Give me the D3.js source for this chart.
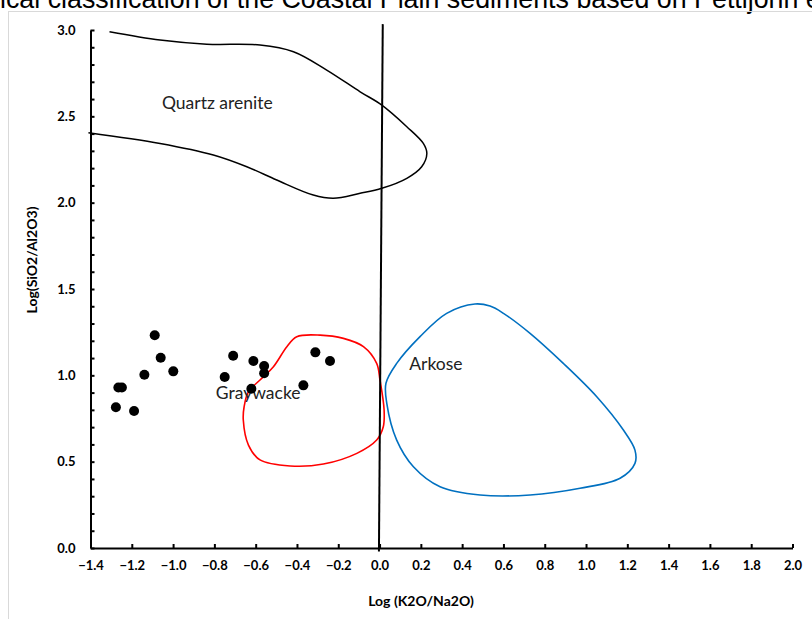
<!DOCTYPE html>
<html>
<head>
<meta charset="utf-8">
<script src="https://cdn.jsdelivr.net/npm/d3@7"></script>
<style>
  body { margin: 0; background: #fff; }
  svg { display: block; }
  .tick text { font-family: Lato, "Open Sans", sans-serif; font-weight: bold; font-size: 13px; fill: #000; }
  .axis path, .axis line { stroke: #000; }
  .field-label { font-family: Lato, "Open Sans", sans-serif; font-size: 17.5px; fill: #222; }
  .axis-title { font-family: Lato, "Open Sans", sans-serif; font-weight: bold; font-size: 14px; fill: #000; }
</style>
</head>
<body>
<div id="chart"></div>
<script>
var width = 812,
    height = 619;

// samples, log(K2O/Na2O) vs log(SiO2/Al2O3)
var sampleX = [-1.277, -1.265, -1.248, -1.189, -1.139, -1.089, -1.060, -0.999,
               -0.750, -0.709, -0.611, -0.559, -0.559, -0.621, -0.311, -0.240, -0.369];
var sampleY = [0.815, 0.930, 0.930, 0.793, 1.003, 1.232, 1.102, 1.023,
               0.990, 1.113, 1.083, 1.054, 1.012, 0.922, 1.133, 1.083, 0.942];

// field boundaries (Pettijohn et al.)
var quartzBoundary = [
  [-1.308, 2.990], [-1.063, 2.942], [-0.837, 2.918], [-0.579, 2.913], [-0.417, 2.874],
  [-0.256, 2.768], [-0.094, 2.642], [0.011, 2.565], [0.132, 2.440], [0.212, 2.343],
  [0.229, 2.285], [0.204, 2.208], [0.132, 2.141], [0.011, 2.083], [-0.094, 2.054],
  [-0.224, 2.025], [-0.321, 2.044], [-0.498, 2.131], [-0.643, 2.208], [-0.805, 2.276],
  [-1.063, 2.343], [-1.410, 2.405]
];
var graywackeBoundary = [
  [-0.288, 1.233], [-0.175, 1.214], [-0.078, 1.166], [-0.014, 1.069], [0.002, 0.973],
  [0.022, 0.799], [0.018, 0.702], [-0.014, 0.625], [-0.110, 0.548], [-0.272, 0.486],
  [-0.433, 0.475], [-0.579, 0.510], [-0.635, 0.596], [-0.660, 0.741], [-0.656, 0.818],
  [-0.635, 0.905], [-0.579, 0.973], [-0.514, 1.050], [-0.449, 1.166], [-0.401, 1.224]
];
var arkoseBoundary = [
  [0.462, 1.413], [0.535, 1.401], [0.600, 1.359], [0.729, 1.243], [0.890, 1.069],
  [1.052, 0.876], [1.181, 0.683], [1.237, 0.567], [1.237, 0.490], [1.165, 0.404],
  [0.971, 0.346], [0.729, 0.307], [0.487, 0.307], [0.293, 0.355], [0.164, 0.471],
  [0.083, 0.625], [0.035, 0.838], [0.031, 0.954], [0.083, 1.069], [0.196, 1.224],
  [0.325, 1.359]
];
var dividerLine = [[0.0155, 3.034], [-0.003, -0.02]];

var fieldNames = ["Quartz arenite", "Graywacke", "Arkose"];
var fieldLabelX = [-1.054, -0.793, 0.144];
var fieldLabelY = [2.542, 0.863, 1.031];

var xTicks = d3.range(-14, 21, 2).map(function(d) { return d / 10; });
var yTicks = d3.range(0, 31, 1).map(function(d) { return d / 10; });

var captionHidden = "Figure 6: Geochem";
var caption = captionHidden + "ical classification of the Coastal Plain sediments based on Pettijohn et al. (1972)";

var svg = d3.select("#chart")
    .append("svg")
    .attr("width", width)
    .attr("height", height);

// caption of the page above, cut by the top edge
var cap = svg.append("text")
    .attr("y", 8)
    .style("font-family", "'Liberation Sans', Arial, sans-serif")
    .style("font-size", "20px")
    .text(caption);
var n0 = captionHidden.length,
    nE = caption.indexOf("et al.");
var span = cap.node().getSubStringLength(n0, nE - n0);
var capSize = 20 * 806 / span;
cap.style("font-size", capSize + "px");
cap.attr("x", -cap.node().getSubStringLength(0, n0));

svg.append("rect")
    .attr("x", 8.5)
    .attr("y", 11.5)
    .attr("width", 820)
    .attr("height", 640)
    .attr("fill", "none")
    .attr("stroke", "#d9d9d9");

var x = d3.scaleLinear().domain([-1.4, 2.0]).range([90.5, 792.5]);
var y = d3.scaleLinear().domain([0, 3]).range([548, 30]);

var fmt = d3.format(".1f");

svg.append("g")
    .attr("class", "axis")
    .attr("transform", "translate(0," + y(0) + ")")
    .call(d3.axisBottom(x)
      .tickValues(xTicks)
      .tickFormat(fmt)
      .tickSizeInner(-4)
      .tickSizeOuter(0)
      .tickPadding(13))
    .call(function(g) { g.selectAll("path, line").attr("stroke-width", 2); });

svg.append("g")
    .attr("class", "axis")
    .attr("transform", "translate(" + x(-1.4) + ",0)")
    .call(d3.axisLeft(y)
      .tickValues(yTicks)
      .tickFormat(function(d) { return Math.round(d * 10) % 5 === 0 ? fmt(d) : ""; })
      .tickSizeInner(-4)
      .tickSizeOuter(0)
      .tickPadding(15))
    .call(function(g) { g.selectAll("path, line").attr("stroke-width", 2); });

var line = d3.line()
    .x(function(d) { return x(d[0]); })
    .y(function(d) { return y(d[1]); });

svg.append("path")
    .datum(quartzBoundary)
    .attr("d", line.curve(d3.curveCatmullRom.alpha(0.5)))
    .attr("fill", "none")
    .attr("stroke", "#000")
    .attr("stroke-width", 1.5);

svg.append("path")
    .datum(graywackeBoundary)
    .attr("d", line.curve(d3.curveCatmullRomClosed.alpha(0.5)))
    .attr("fill", "none")
    .attr("stroke", "#ff0000")
    .attr("stroke-width", 1.6);

svg.append("path")
    .datum(arkoseBoundary)
    .attr("d", line.curve(d3.curveCatmullRomClosed.alpha(0.5)))
    .attr("fill", "none")
    .attr("stroke", "#0070c0")
    .attr("stroke-width", 1.6);

svg.append("path")
    .datum(dividerLine)
    .attr("d", line.curve(d3.curveLinear))
    .attr("fill", "none")
    .attr("stroke", "#000")
    .attr("stroke-width", 2);

svg.selectAll(".field-label")
    .data(fieldNames)
    .enter().append("text")
      .attr("class", "field-label")
      .attr("x", function(d, i) { return x(fieldLabelX[i]); })
      .attr("y", function(d, i) { return y(fieldLabelY[i]); })
      .text(function(d) { return d; });

svg.selectAll(".sample")
    .data(sampleX)
    .enter().append("circle")
      .attr("class", "sample")
      .attr("cx", function(d) { return x(d); })
      .attr("cy", function(d, i) { return y(sampleY[i]); })
      .attr("r", 5)
      .style("fill", "#000");

svg.append("text")
    .attr("class", "axis-title")
    .attr("x", 421)
    .attr("y", 606)
    .attr("text-anchor", "middle")
    .text("Log (K2O/Na2O)");

svg.append("text")
    .attr("class", "axis-title")
    .attr("transform", "translate(37,260) rotate(-90)")
    .attr("text-anchor", "middle")
    .text("Log(SiO2/Al2O3)");
</script>
</body>
</html>
